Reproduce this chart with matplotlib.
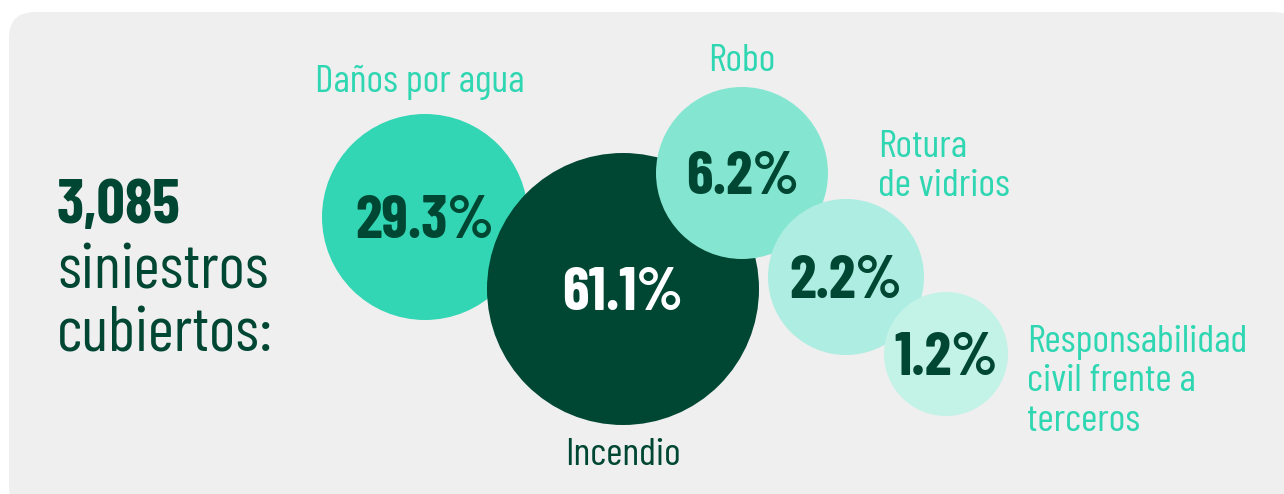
import matplotlib
matplotlib.use("Agg")
import matplotlib.pyplot as plt
from matplotlib.patches import Circle, FancyBboxPatch

# ---- data ----
categories = ["Incendio", "Daños por agua", "Robo", "Rotura\nde vidrios",
              "Responsabilidad\ncivil frente a\nterceros"]
shares = [61.1, 29.3, 6.2, 2.2, 1.2]
total_claims = "3,085"
total_caption = "siniestros\ncubiertos:"

# ---- layout / style (pixel coordinates, y downwards) ----
W, H = 1284, 494
centers = [(623, 289), (425, 217), (742, 173), (846, 277), (946, 354)]
radii = [136, 103, 86, 78, 62]
fills = ["#004733", "#33d6b4", "#84e6d1", "#aeede1", "#c3f2e7"]
pct_colors = ["#ffffff", "#004733", "#004733", "#004733", "#004733"]
label_pos = [(623, 465, "center"), (420, 92, "center"),
             (742, 71, "center"), (878, 157, "left"),
             (1027, 352, "left")]
label_colors = ["#004733", "#2fd6b2", "#2fd6b2", "#2fd6b2", "#2fd6b2"]
dark = "#004733"
FONT = ["Barlow Condensed", "DejaVu Sans"]
plt.rcParams["font.family"] = FONT

fig = plt.figure(figsize=(W / 100, H / 100), dpi=100)
ax = fig.add_axes([0, 0, 1, 1])
ax.set_xlim(0, W)
ax.set_ylim(H, 0)
ax.set_aspect("equal")
ax.axis("off")

ax.add_patch(FancyBboxPatch((9, 12), 1290, 500, boxstyle="round,pad=0,rounding_size=26",
                            fc="#efefef", ec="none", zorder=0))

order = [1, 0, 2, 3, 4]
for k, i in enumerate(order):
    ax.add_patch(Circle(centers[i], radii[i], fc=fills[i], ec="none", zorder=1 + k))
    cx, cy = centers[i]
    ax.text(cx, cy + 21, f"{shares[i]:.1f}%", ha="center", va="baseline",
            fontsize=43.5, fontweight="bold", color=pct_colors[i], zorder=10)

for i, cat in enumerate(categories):
    x, y, ha = label_pos[i]
    for j, line in enumerate(cat.split("\n")):
        ax.text(x, y + 39.3 * j, line, ha=ha, va="baseline", fontsize=28.5,
                fontweight=400, color=label_colors[i], zorder=10)

ax.text(57, 223, total_claims, ha="left", va="baseline", fontsize=45,
        fontweight="bold", color=dark)
for j, line in enumerate(total_caption.split("\n")):
    ax.text(57, 288 + 63 * j, line, ha="left", va="baseline", fontsize=45.5,
            fontweight=400, color=dark)

fig.savefig("out.png", dpi=100, facecolor="white")
